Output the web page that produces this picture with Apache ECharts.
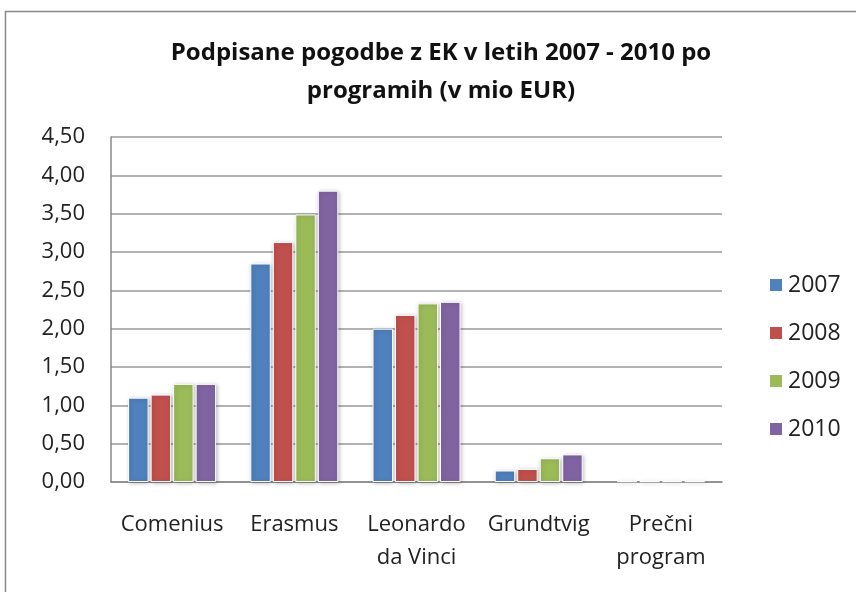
<!DOCTYPE html>
<html>
<head>
<meta charset="utf-8">
<script src="https://cdn.jsdelivr.net/npm/echarts@6/dist/echarts.min.js"></script>
<style>
html,body{margin:0;padding:0;background:#fff;}
#chart{width:856px;height:592px;}
</style>
</head>
<body>
<div id="chart"></div>
<script>
const categories = ['Comenius', 'Erasmus', 'Leonardo\nda Vinci', 'Grundtvig', 'Prečni\nprogram'];
const seriesNames = ['2007', '2008', '2009', '2010'];
const values2007 = [1.10, 2.85, 2.00, 0.15, 0.01];
const values2008 = [1.14, 3.13, 2.18, 0.17, 0.01];
const values2009 = [1.28, 3.49, 2.33, 0.31, 0.01];
const values2010 = [1.28, 3.80, 2.35, 0.36, 0.01];
const yTickLabels = ['0,00','0,50','1,00','1,50','2,00','2,50','3,00','3,50','4,00','4,50'];
const titleText = 'Podpisane pogodbe z EK v letih 2007 - 2010 po\nprogramih (v mio EUR)';

const colors = ['#4F81BD', '#C0504D', '#9BBB59', '#8064A2'];
const allValues = [values2007, values2008, values2009, values2010];
const FONT = '"Open Sans", sans-serif';

const chart = echarts.init(document.getElementById('chart'));
chart.setOption({
  animation: false,
  color: colors,
  graphic: [{
    type: 'rect',
    shape: { x: 5.5, y: 11.5, width: 870, height: 600 },
    style: { fill: 'none', stroke: '#888', lineWidth: 1.5 },
    silent: true
  }],
  title: {
    text: titleText,
    left: 436,
    textAlign: 'center',
    top: 29,
    textStyle: { fontFamily: FONT, fontWeight: 'bold', fontSize: 24, lineHeight: 38, color: '#111' }
  },
  legend: {
    orient: 'vertical',
    left: 763,
    top: 268,
    itemWidth: 14,
    itemHeight: 14,
    itemGap: 24,
    icon: 'rect',
    textStyle: { fontFamily: FONT, fontSize: 23, lineHeight: 24, color: '#222' },
    data: seriesNames
  },
  grid: { left: 111, top: 137, width: 611, height: 345, containLabel: false },
  xAxis: {
    type: 'category',
    data: categories,
    axisLine: { lineStyle: { color: '#888', width: 1.5 } },
    axisTick: { show: false },
    axisLabel: { fontFamily: FONT, fontSize: 22, color: '#222', lineHeight: 33, margin: 26, interval: 0 }
  },
  yAxis: {
    type: 'value',
    min: 0, max: 4.5, interval: 0.5,
    axisLine: { show: true, lineStyle: { color: '#888', width: 1.5 } },
    axisTick: { show: false },
    splitLine: { lineStyle: { color: '#999', width: 1.5 } },
    axisLabel: {
      fontFamily: FONT, fontSize: 22, color: '#222', margin: 26,
      formatter: function (v) { return yTickLabels[Math.round(v / 0.5)]; }
    }
  },
  series: seriesNames.map(function (name, i) {
    return {
      name: name,
      type: 'bar',
      data: allValues[i],
      barGap: '10%',
      barCategoryGap: '28%',
      itemStyle: { borderColor: '#fff', borderWidth: 1, shadowColor: 'rgba(0,0,0,0.25)', shadowBlur: 4, shadowOffsetX: 1, shadowOffsetY: 1 }
    };
  })
});
</script>
</body>
</html>
